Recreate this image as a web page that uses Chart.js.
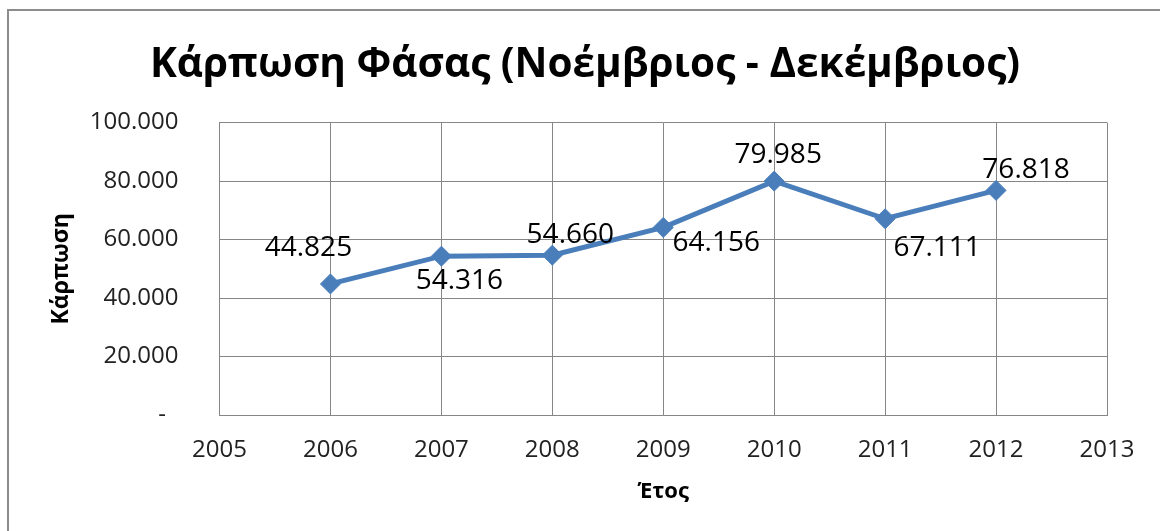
<!DOCTYPE html>
<html>
<head>
<meta charset="utf-8">
<script src="https://cdn.jsdelivr.net/npm/chart.js@4"></script>
<style>
  html, body { margin: 0; padding: 0; background: #fff; }
  #wrap { width: 1160px; height: 531px; }
</style>
</head>
<body>
<div id="wrap"><canvas id="harvestChart" width="1160" height="531"></canvas></div>
<script>
// ------------------ Data ------------------
const years = [2006, 2007, 2008, 2009, 2010, 2011, 2012];
const harvest = [44825, 54316, 54660, 64156, 79985, 67111, 76818];
const xRange = [2005, 2013];
const yRange = [0, 100000];

const chartTitle = "Κάρπωση Φάσας (Νοέμβριος - Δεκέμβριος)";
const xTitle = "Έτος";
const yTitle = "Κάρπωση";

// 100000 -> "100.000"
const fmt = v => String(Math.round(v)).replace(/\B(?=(\d{3})+(?!\d))/g, ".");

const GRID = "#868686";
const BLUE = "#4A7EBB";
const FONT = "'Open Sans', 'Noto Sans', sans-serif";

// label placement around each point (dx, dy from the marker)
const labelOffsets = [[-22, -36], [18, 25], [18, -20], [53, 16], [4, -26], [52, 29], [30, -20]];

const pointLabels = {
  id: "pointLabels",
  afterDatasetsDraw(chart) {
    const { ctx } = chart;
    const meta = chart.getDatasetMeta(0);
    ctx.save();
    ctx.font = `28px ${FONT}`;
    ctx.fillStyle = "#000";
    ctx.textAlign = "center";
    ctx.textBaseline = "middle";
    meta.data.forEach((pt, i) => {
      const [dx, dy] = labelOffsets[i];
      ctx.fillText(fmt(harvest[i]), pt.x + dx, pt.y + dy);
    });
    ctx.restore();
  }
};

const frame = {
  id: "frame",
  beforeDraw(chart) {
    const { ctx, width, height } = chart;
    ctx.save();
    ctx.fillStyle = "#fff";
    ctx.fillRect(0, 0, width, height);
    ctx.strokeStyle = "#8c8c8c";
    ctx.lineWidth = 2;
    ctx.strokeRect(8, 10, width + 20, height + 20);
    ctx.restore();
  }
};

new Chart(document.getElementById("harvestChart"), {
  type: "line",
  data: {
    datasets: [{
      label: yTitle,
      data: years.map((y, i) => ({ x: y, y: harvest[i] })),
      borderColor: BLUE,
      backgroundColor: BLUE,
      borderWidth: 5,
      tension: 0,
      pointStyle: "rectRot",
      pointRadius: 10,
      pointHoverRadius: 10,
      pointBackgroundColor: BLUE,
      pointBorderColor: BLUE,
      pointBorderWidth: 1
    }]
  },
  options: {
    responsive: false,
    animation: false,
    events: [],
    layout: { padding: { top: 10, left: 63, right: 53, bottom: 0 } },
    plugins: {
      legend: { display: false },
      tooltip: { enabled: false },
      title: {
        display: true,
        text: chartTitle,
        color: "#000",
        font: { family: FONT, size: 40.5, weight: "bold", lineHeight: 1.2 },
        padding: { top: 31, bottom: 33 }
      }
    },
    scales: {
      x: {
        type: "linear",
        min: xRange[0],
        max: xRange[1],
        afterFit: s => { s.height = 116; },
        ticks: {
          stepSize: 1,
          padding: 21,
          color: "#222",
          font: { family: FONT, size: 24 },
          callback: v => String(v)
        },
        grid: { color: GRID, drawTicks: false },
        border: { color: GRID },
        title: {
          display: true,
          text: xTitle,
          color: "#000",
          font: { family: FONT, size: 22, weight: "bold" },
          padding: { top: 0, bottom: 26 }
        }
      },
      y: {
        min: yRange[0],
        max: yRange[1],
        afterFit: s => { s.width = 156.5; },
        ticks: {
          stepSize: 20000,
          padding: 41,
          color: "#222",
          font: { family: FONT, size: 24 },
          callback: v => (v === 0 ? "-  " : fmt(v))
        },
        grid: { color: GRID, drawTicks: false },
        border: { color: GRID },
        title: {
          display: true,
          text: yTitle,
          color: "#000",
          font: { family: FONT, size: 23, weight: "bold" },
          padding: { top: -15, bottom: 0 }
        }
      }
    }
  },
  plugins: [frame, pointLabels]
});
</script>
</body>
</html>
